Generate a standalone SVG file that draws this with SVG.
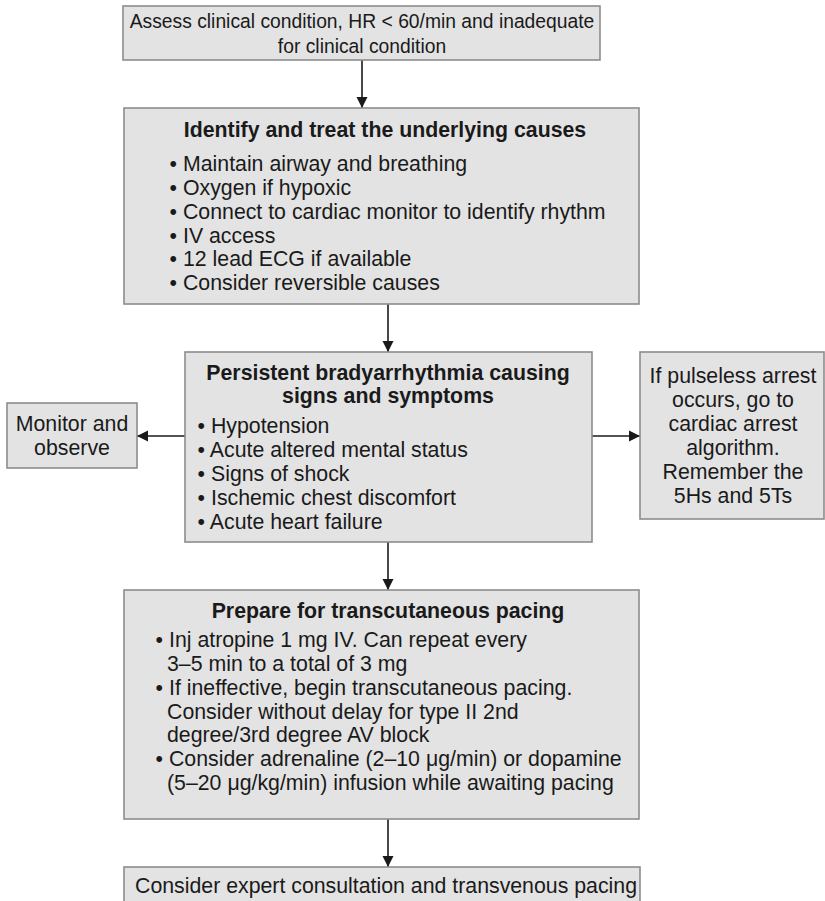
<svg xmlns="http://www.w3.org/2000/svg" width="825" height="901" viewBox="0 0 825 901">
<style>
.box{fill:#e3e3e3;stroke:#8c8c8c;stroke-width:1.6}
text{font-family:"Liberation Sans",Arial,sans-serif;fill:#1a1a1a;font-size:21.3px}
.c{text-anchor:middle}
.b{font-weight:bold}
.s{font-size:19.3px}
.conn{stroke:#1a1a1a;stroke-width:1.6;fill:none;marker-end:url(#ah)}
</style>
<defs>
<marker id="ah" markerUnits="userSpaceOnUse" markerWidth="12" markerHeight="12" viewBox="0 0 12 12" refX="11" refY="6" orient="auto">
<path d="M0,0.5 L11,6 L0,11.5 Z" fill="#1a1a1a"/>
</marker>
</defs>
<rect width="825" height="901" fill="#ffffff"/>
<g id="connectors">
<line class="conn" x1="362" y1="60" x2="362" y2="108"/>
<line class="conn" x1="388" y1="304" x2="388" y2="352"/>
<line class="conn" x1="185" y1="436" x2="137" y2="436"/>
<line class="conn" x1="592" y1="436" x2="640" y2="436"/>
<line class="conn" x1="388" y1="542" x2="388" y2="590"/>
<line class="conn" x1="388" y1="819" x2="388" y2="867"/>
</g>
<g id="assess">
<rect class="box" x="123" y="6" width="477" height="54"/>
<text class="c s" x="362" y="28">Assess clinical condition, HR &lt; 60/min and inadequate</text>
<text class="c s" x="362" y="53">for clinical condition</text>
</g>
<g id="identify">
<rect class="box" x="124" y="108" width="515" height="196"/>
<text class="c b" x="385" y="137">Identify and treat the underlying causes</text>
<text x="169.6" y="171">• Maintain airway and breathing</text>
<text x="169.6" y="194.5">• Oxygen if hypoxic</text>
<text x="169.6" y="218.5">• Connect to cardiac monitor to identify rhythm</text>
<text x="169.6" y="242.5">• IV access</text>
<text x="169.6" y="266">• 12 lead ECG if available</text>
<text x="169.6" y="290">• Consider reversible causes</text>
</g>
<g id="persistent">
<rect class="box" x="185" y="352" width="407" height="190"/>
<text class="c b" x="388" y="380">Persistent bradyarrhythmia causing</text>
<text class="c b" x="388" y="403">signs and symptoms</text>
<text x="197.6" y="433">• Hypotension</text>
<text x="197.6" y="457">• Acute altered mental status</text>
<text x="197.6" y="481">• Signs of shock</text>
<text x="197.6" y="505">• Ischemic chest discomfort</text>
<text x="197.6" y="529">• Acute heart failure</text>
</g>
<g id="monitor">
<rect class="box" x="7" y="403" width="130" height="65"/>
<text class="c" x="72" y="431">Monitor and</text>
<text class="c" x="72" y="455">observe</text>
</g>
<g id="pulseless">
<rect class="box" x="640" y="352" width="184" height="167"/>
<text class="c" x="733" y="383">If pulseless arrest</text>
<text class="c" x="733" y="407">occurs, go to</text>
<text class="c" x="733" y="431">cardiac arrest</text>
<text class="c" x="733" y="455">algorithm.</text>
<text class="c" x="733" y="479">Remember the</text>
<text class="c" x="733" y="503">5Hs and 5Ts</text>
</g>
<g id="pacing">
<rect class="box" x="124" y="590" width="515" height="229"/>
<text class="c b" x="388" y="618">Prepare for transcutaneous pacing</text>
<text x="155.6" y="647">• Inj atropine 1 mg IV. Can repeat every</text>
<text x="167" y="671">3–5 min to a total of 3 mg</text>
<text x="155.6" y="695">• If ineffective, begin transcutaneous pacing.</text>
<text x="167" y="718.5">Consider without delay for type II 2nd</text>
<text x="167" y="742">degree/3rd degree AV block</text>
<text x="155.6" y="766">• Consider adrenaline (2–10 μg/min) or dopamine</text>
<text x="167" y="790">(5–20 μg/kg/min) infusion while awaiting pacing</text>
</g>
<g id="expert">
<rect class="box" x="124" y="867" width="516" height="40"/>
<text class="c" x="386" y="893">Consider expert consultation and transvenous pacing</text>
</g>
</svg>
